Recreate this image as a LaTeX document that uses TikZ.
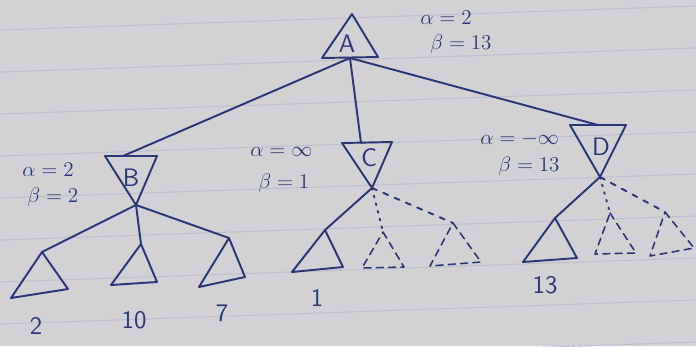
\documentclass[tikz,border=0pt]{standalone}
\usepackage{tikz}
\usetikzlibrary{calc}
\definecolor{ink}{RGB}{42,54,120}
\definecolor{paper}{RGB}{210,210,213}
\definecolor{ruling}{RGB}{190,192,206}
\tikzset{
  pen/.style={draw=ink, line width=1.1pt, line join=round, line cap=round},
  dotedge/.style={pen, dash pattern=on 1pt off 3.5pt},
  dashedge/.style={pen, dash pattern=on 3pt off 4pt},
  ghosttri/.style={pen, line width=0.9pt, dash pattern=on 4pt off 3pt},
  nlabel/.style={text=ink, font=\Large\sffamily},
  ab/.style={text=ink, font=\large, anchor=west, inner sep=0pt},
  leaf/.style={text=ink, font=\Large\sffamily},
}
\begin{document}
\begin{tikzpicture}[x=0.02cm, y=-0.02cm]
  \fill[paper] (0,0) rectangle (696,346);
  \useasboundingbox (0,0) rectangle (696,346);
  % notebook ruling
  \foreach \y in {30,72,...,384} \draw[ruling, line width=0.6pt] (0,\y) -- (696,\y-24);
  % root A
  \draw[pen] (352,14) -- (378,57) -- (322,58) -- cycle;
  \coordinate (Aout) at (350,58);
  \node[nlabel] (labA) at (347,44) {A};
  \node[ab] (aA) at (420,18) {$\alpha=2$};
  \node[ab] (bA) at (430,44) {$\beta=13$};
  % node B
  \draw[pen] (105,156) -- (157,156) -- (136,205) -- cycle;
  \coordinate (Bin) at (123,156);
  \coordinate (Bout) at (136,205);
  \node[nlabel] (labB) at (131,178) {B};
  \node[ab] (aB) at (22,170) {$\alpha=2$};
  \node[ab] (bB) at (27,197) {$\beta=2$};
  % node C
  \draw[pen] (342,143) -- (392,142) -- (372,188) -- cycle;
  \coordinate (Cin) at (361,143);
  \coordinate (Cout) at (372,188);
  \node[nlabel] (labC) at (369,158) {C};
  \node[ab] (aC) at (250,152) {$\alpha=\infty$};
  \node[ab] (bC) at (258,183) {$\beta=1$};
  % node D
  \draw[pen] (570,125) -- (626,125) -- (600,177) -- cycle;
  \coordinate (Din) at (598,125);
  \coordinate (Dout) at (600,177);
  \node[nlabel] (labD) at (601,147) {D};
  \node[ab] (aD) at (480,139) {$\alpha=-\infty$};
  \node[ab] (bD) at (498,166) {$\beta=13$};
  % edges from A
  \draw[pen] (Aout) -- (Bin);
  \draw[pen] (Aout) -- (Cin);
  \draw[pen] (Aout) -- (Din);
  % leaves under B
  \coordinate (b1) at (42,252);
  \coordinate (b2) at (141,244);
  \coordinate (b3) at (229,238);
  \draw[pen] (b1) -- (68,289) -- (11,298) -- cycle;
  \draw[pen] (b2) -- (157,282) -- (111,285) -- cycle;
  \draw[pen] (b3) -- (245,277) -- (199,287) -- cycle;
  \draw[pen] (Bout) -- (b1);
  \draw[pen] (Bout) -- (b2);
  \draw[pen] (Bout) -- (b3);
  \node[leaf] (v2) at (36,326) {2};
  \node[leaf] (v10) at (134,320) {10};
  \node[leaf] (v7) at (222,313) {7};
  % leaves under C
  \coordinate (c1) at (325,230);
  \coordinate (c2) at (383,232);
  \coordinate (c3) at (453,223);
  \draw[pen] (c1) -- (343,267) -- (292,272) -- cycle;
  \draw[ghosttri] (c2) -- (404,267) -- (362,268) -- cycle;
  \draw[ghosttri] (c3) -- (481,262) -- (430,266) -- cycle;
  \draw[pen] (Cout) -- (c1);
  \draw[dotedge] (Cout) -- (c2);
  \draw[dashedge] (Cout) -- (c3);
  \node[leaf] (v1) at (317,298) {1};
  % leaves under D
  \coordinate (d1) at (555,218);
  \coordinate (d2) at (610,213);
  \coordinate (d3) at (665,212);
  \draw[pen] (d1) -- (577,258) -- (523,262) -- cycle;
  \draw[ghosttri] (d2) -- (636,253) -- (595,254) -- cycle;
  \draw[ghosttri] (d3) -- (694,248) -- (650,256) -- cycle;
  \draw[pen] (Dout) -- (d1);
  \draw[dotedge] (Dout) -- (d2);
  \draw[dashedge] (Dout) -- (d3);
  \node[leaf] (v13) at (545,285) {13};
\end{tikzpicture}
\end{document}
